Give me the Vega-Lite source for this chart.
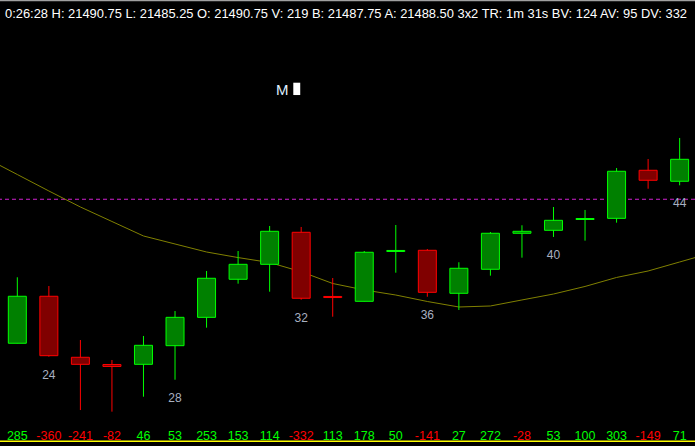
{
  "$schema": "https://vega.github.io/schema/vega-lite/v6.json",
  "width": 695,
  "height": 446,
  "autosize": "none",
  "padding": 0,
  "background": "#000000",
  "config": {"view": {"stroke": null}, "text": {"font": "Liberation Sans"}},
  "datasets": {
    "bars": [
      {"i": 0, "open": 21467.86, "high": 21475.19, "low": 21467.86, "close": 21473.08, "delta": 285},
      {"i": 1, "open": 21473.08, "high": 21474.22, "low": 21466.37, "close": 21466.48, "delta": -360, "count": 24},
      {"i": 2, "open": 21466.30, "high": 21468.22, "low": 21460.44, "close": 21465.52, "delta": -241},
      {"i": 3, "open": 21465.50, "high": 21466.00, "low": 21460.26, "close": 21465.28, "delta": -82},
      {"i": 4, "open": 21465.52, "high": 21468.67, "low": 21461.92, "close": 21467.63, "delta": 46},
      {"i": 5, "open": 21467.59, "high": 21471.44, "low": 21463.81, "close": 21470.74, "delta": 53, "count": 28},
      {"i": 6, "open": 21470.74, "high": 21475.89, "low": 21469.59, "close": 21475.08, "delta": 253},
      {"i": 7, "open": 21474.97, "high": 21478.11, "low": 21474.48, "close": 21476.63, "delta": 153},
      {"i": 8, "open": 21476.63, "high": 21480.89, "low": 21473.59, "close": 21480.30, "delta": 114},
      {"i": 9, "open": 21480.19, "high": 21480.78, "low": 21472.70, "close": 21472.86, "delta": -332, "count": 32},
      {"i": 10, "open": 21473.06, "high": 21475.11, "low": 21470.81, "close": 21472.94, "delta": 113},
      {"i": 11, "open": 21472.52, "high": 21478.11, "low": 21472.52, "close": 21477.97, "delta": 178},
      {"i": 12, "open": 21478.06, "high": 21481.00, "low": 21475.70, "close": 21478.17, "delta": 50},
      {"i": 13, "open": 21478.19, "high": 21478.33, "low": 21473.03, "close": 21473.52, "delta": -141, "count": 36},
      {"i": 14, "open": 21473.41, "high": 21476.86, "low": 21471.56, "close": 21476.19, "delta": 27},
      {"i": 15, "open": 21476.08, "high": 21480.22, "low": 21475.37, "close": 21480.08, "delta": 272},
      {"i": 16, "open": 21480.08, "high": 21480.97, "low": 21477.37, "close": 21480.30, "delta": -28},
      {"i": 17, "open": 21480.41, "high": 21483.00, "low": 21479.67, "close": 21481.52, "delta": 53, "count": 40},
      {"i": 18, "open": 21481.61, "high": 21482.67, "low": 21479.26, "close": 21481.72, "delta": 100},
      {"i": 19, "open": 21481.74, "high": 21487.33, "low": 21481.26, "close": 21486.97, "delta": 303},
      {"i": 20, "open": 21487.08, "high": 21488.33, "low": 21485.03, "close": 21485.97, "delta": -149},
      {"i": 21, "open": 21485.86, "high": 21490.67, "low": 21485.41, "close": 21488.30, "delta": 71, "count": 44}
    ],
    "ma": [
      {"i": -1, "ma": 21488.44}, {"i": 0, "ma": 21486.61}, {"i": 1, "ma": 21484.78},
      {"i": 2, "ma": 21483.00}, {"i": 3, "ma": 21481.39}, {"i": 4, "ma": 21479.78},
      {"i": 5, "ma": 21478.89}, {"i": 6, "ma": 21478.00}, {"i": 7, "ma": 21477.38},
      {"i": 8, "ma": 21476.83}, {"i": 9, "ma": 21475.81}, {"i": 10, "ma": 21474.50},
      {"i": 11, "ma": 21473.78}, {"i": 12, "ma": 21473.22}, {"i": 13, "ma": 21472.50},
      {"i": 14, "ma": 21471.89}, {"i": 15, "ma": 21472.00}, {"i": 16, "ma": 21472.67},
      {"i": 17, "ma": 21473.33}, {"i": 18, "ma": 21474.17}, {"i": 19, "ma": 21475.17},
      {"i": 20, "ma": 21475.89}, {"i": 21, "ma": 21476.89}, {"i": 22, "ma": 21477.89}
    ],
    "one": [{}],
    "header": [{"text": "0:26:28 H: 21490.75 L: 21485.25 O: 21490.75 V: 219 B: 21487.75 A: 21488.50 3x2 TR: 1m 31s BV: 124 AV: 95 DV: 332"}]
  },
  "layer": [
    {
      "data": {"name": "one"},
      "mark": {"type": "rule", "color": "#a0a0a0", "strokeWidth": 1.5},
      "encoding": {
        "y": {"datum": 21505.94, "type": "quantitative", "axis": null, "scale": {"domain": [21456.444, 21506], "nice": false, "zero": false}}
      }
    },
    {
      "data": {"name": "one"},
      "mark": {"type": "rule", "color": "#d020d0", "strokeWidth": 1, "strokeDash": [4, 3]},
      "encoding": {
        "y": {"datum": 21483.86, "type": "quantitative", "axis": null, "scale": {"domain": [21456.444, 21506], "nice": false, "zero": false}}
      }
    },
    {
      "data": {"name": "ma"},
      "mark": {"type": "line", "color": "#808000", "strokeWidth": 1, "clip": true},
      "encoding": {
        "x": {"field": "i", "type": "quantitative", "axis": null, "scale": {"domain": [-0.390625, 21.328125], "nice": false, "zero": false}},
        "y": {"field": "ma", "type": "quantitative", "axis": null, "scale": {"domain": [21456.444, 21506], "nice": false, "zero": false}}
      }
    },
    {
      "data": {"name": "bars"},
      "mark": {"type": "rule", "strokeWidth": 1},
      "encoding": {
        "x": {"field": "i", "type": "quantitative", "axis": null, "scale": {"domain": [-0.390625, 21.328125], "nice": false, "zero": false}},
        "y": {"field": "low", "type": "quantitative", "axis": null, "scale": {"domain": [21456.444, 21506], "nice": false, "zero": false}},
        "y2": {"field": "high"},
        "stroke": {"condition": {"test": "datum.close < datum.open", "value": "#ff0000"}, "value": "#00ff00"}
      }
    },
    {
      "data": {"name": "bars"},
      "mark": {"type": "bar", "width": 18, "strokeWidth": 1},
      "encoding": {
        "x": {"field": "i", "type": "quantitative", "axis": null, "scale": {"domain": [-0.390625, 21.328125], "nice": false, "zero": false}},
        "y": {"field": "open", "type": "quantitative", "axis": null, "scale": {"domain": [21456.444, 21506], "nice": false, "zero": false}},
        "y2": {"field": "close"},
        "fill": {"condition": {"test": "datum.close < datum.open", "value": "#800000"}, "value": "#008000"},
        "stroke": {"condition": {"test": "datum.close < datum.open", "value": "#ff0000"}, "value": "#00ff00"}
      }
    },
    {
      "data": {"name": "bars"},
      "transform": [{"filter": "isValid(datum.count)"}],
      "mark": {"type": "text", "fontSize": 12, "color": "#a8b0c0", "dy": 18, "baseline": "middle", "align": "center"},
      "encoding": {
        "x": {"field": "i", "type": "quantitative", "axis": null, "scale": {"domain": [-0.390625, 21.328125], "nice": false, "zero": false}},
        "y": {"field": "low", "type": "quantitative", "axis": null, "scale": {"domain": [21456.444, 21506], "nice": false, "zero": false}},
        "text": {"field": "count"}
      }
    },
    {
      "data": {"name": "bars"},
      "mark": {"type": "text", "fontSize": 12.5, "baseline": "middle", "align": "center"},
      "encoding": {
        "x": {"field": "i", "type": "quantitative", "axis": null, "scale": {"domain": [-0.390625, 21.328125], "nice": false, "zero": false}},
        "y": {"datum": 21457.58, "type": "quantitative", "axis": null, "scale": {"domain": [21456.444, 21506], "nice": false, "zero": false}},
        "text": {"field": "delta"},
        "color": {"condition": {"test": "datum.delta < 0", "value": "#ff0000"}, "value": "#00ff00"}
      }
    },
    {
      "data": {"name": "one"},
      "mark": {"type": "rule", "color": "#ffff00", "strokeWidth": 1.5},
      "encoding": {
        "y": {"datum": 21456.97, "type": "quantitative", "axis": null, "scale": {"domain": [21456.444, 21506], "nice": false, "zero": false}}
      }
    },
    {
      "data": {"name": "header"},
      "mark": {"type": "text", "fontSize": 12.9, "color": "#ffffff", "align": "left", "baseline": "alphabetic"},
      "encoding": {
        "x": {"datum": -0.390625, "type": "quantitative", "axis": null, "scale": {"domain": [-0.390625, 21.328125], "nice": false, "zero": false}},
        "y": {"datum": 21503.97, "type": "quantitative", "axis": null, "scale": {"domain": [21456.444, 21506], "nice": false, "zero": false}},
        "text": {"field": "text"}
      }
    },
    {
      "data": {"name": "one"},
      "mark": {"type": "text", "text": "M", "fontSize": 15, "color": "#dfefff", "align": "center", "baseline": "alphabetic"},
      "encoding": {
        "x": {"datum": 8.40, "type": "quantitative", "axis": null, "scale": {"domain": [-0.390625, 21.328125], "nice": false, "zero": false}},
        "y": {"datum": 21495.44, "type": "quantitative", "axis": null, "scale": {"domain": [21456.444, 21506], "nice": false, "zero": false}}
      }
    },
    {
      "data": {"name": "one"},
      "mark": {"type": "rect", "color": "#ffffff"},
      "encoding": {
        "x": {"datum": 8.75, "type": "quantitative", "axis": null, "scale": {"domain": [-0.390625, 21.328125], "nice": false, "zero": false}},
        "x2": {"datum": 8.97},
        "y": {"datum": 21496.81, "type": "quantitative", "axis": null, "scale": {"domain": [21456.444, 21506], "nice": false, "zero": false}},
        "y2": {"datum": 21495.44}
      }
    }
  ]
}
